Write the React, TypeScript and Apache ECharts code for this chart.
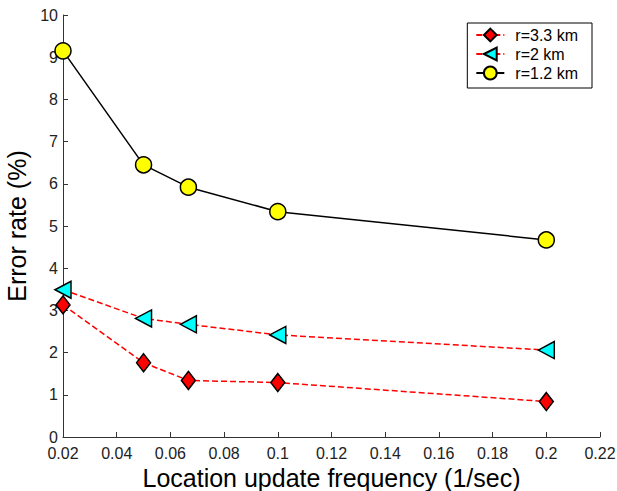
import React, { useEffect, useRef } from "react";
import * as echarts from "echarts";

const xValues = [0.02, 0.05, 0.0667, 0.1, 0.2];
const r33 = [3.13, 1.76, 1.34, 1.29, 0.84];
const r2 = [3.49, 2.81, 2.67, 2.42, 2.06];
const r12 = [9.15, 6.45, 5.92, 5.34, 4.67];
const seriesNames = ["r=3.3 km", "r=2 km", "r=1.2 km"];

const pairs = (ys: number[]) => xValues.map((x, i) => [x, ys[i]]);

export default function App() {
  const ref = useRef<HTMLDivElement>(null);
  useEffect(() => {
    const chart = echarts.init(ref.current!, undefined, { renderer: "svg" });
    const font = "Arial, 'Liberation Sans', sans-serif";
    chart.setOption({
      animation: false,
      backgroundColor: "#fff",
      textStyle: { fontFamily: font },
      grid: { left: 63, right: 17, top: 15, bottom: 54, outerBoundsMode: "none", containLabel: false },
      legend: {
        right: 25,
        top: 23,
        orient: "vertical",
        backgroundColor: "#fff",
        borderColor: "#000",
        borderWidth: 1,
        borderRadius: 0,
        padding: [4, 14, 7, 8],
        itemGap: 3,
        itemWidth: 28,
        itemHeight: 16,
        textStyle: { fontSize: 16, color: "#000", fontFamily: font, padding: [0, 0, 0, 6] },
        data: seriesNames,
      },
      xAxis: {
        type: "value",
        min: 0.02,
        max: 0.22,
        interval: 0.02,
        name: "Location update frequency (1/sec)",
        nameLocation: "middle",
        nameGap: 18,
        nameTextStyle: { fontSize: 25, color: "#000", fontFamily: font, lineHeight: 25 },
        axisLine: { lineStyle: { color: "#333", width: 1 } },
        axisTick: { inside: true, length: 5, lineStyle: { color: "#333" } },
        axisLabel: {
          fontSize: 16,
          color: "#222",
          margin: 8,
          formatter: (v: number) => String(+v.toFixed(2)),
        },
        splitLine: { show: false },
      },
      yAxis: {
        type: "value",
        min: 0,
        max: 10,
        interval: 1,
        name: "Error rate (%)",
        nameLocation: "middle",
        nameGap: 29,
        nameTextStyle: { fontSize: 25, color: "#000", fontFamily: font },
        axisLine: { show: true, lineStyle: { color: "#333", width: 1 } },
        axisTick: { show: true, inside: true, length: 5, lineStyle: { color: "#333" } },
        axisLabel: { fontSize: 16, color: "#222", margin: 5 },
        splitLine: { show: false },
      },
      series: [
        {
          name: seriesNames[0],
          type: "line",
          data: pairs(r33),
          symbol: "diamond",
          symbolSize: [14, 18],
          itemStyle: { color: "#ff0000", borderColor: "#000", borderWidth: 1.5 },
          lineStyle: { color: "#ff0000", type: [6, 3], width: 1.5 },
        },
        {
          name: seriesNames[1],
          type: "line",
          data: pairs(r2),
          symbol: "triangle",
          symbolRotate: 90,
          symbolSize: [17, 16],
          itemStyle: { color: "#00ffff", borderColor: "#000", borderWidth: 1.5 },
          lineStyle: { color: "#ff0000", type: [6, 3], width: 1.5 },
        },
        {
          name: seriesNames[2],
          type: "line",
          data: pairs(r12),
          symbol: "circle",
          symbolSize: 16,
          itemStyle: { color: "#ffff00", borderColor: "#000", borderWidth: 1.5 },
          lineStyle: { color: "#000", width: 1.5 },
        },
      ],
    });
    return () => chart.dispose();
  }, []);
  return (
    <div
      ref={ref}
      style={{ position: "absolute", left: 0, top: 0, width: 617, height: 491 }}
    />
  );
}
